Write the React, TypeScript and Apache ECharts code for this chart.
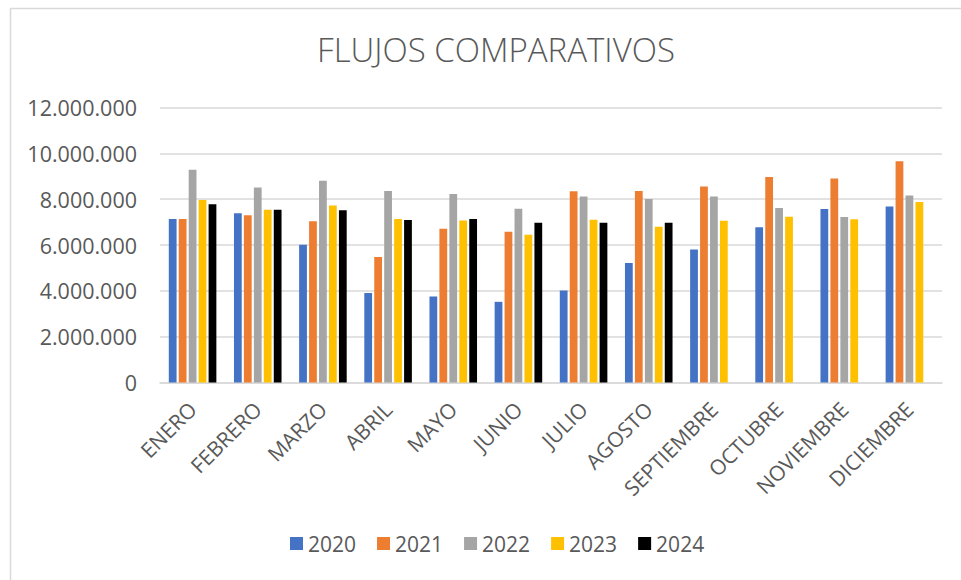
import React, { useEffect, useRef } from "react";
import * as echarts from "echarts";

const months = ["ENERO", "FEBRERO", "MARZO", "ABRIL", "MAYO", "JUNIO", "JULIO", "AGOSTO", "SEPTIEMBRE", "OCTUBRE", "NOVIEMBRE", "DICIEMBRE"];
const years = ["2020", "2021", "2022", "2023", "2024"];
const s2020 = [7140000, 7390000, 6010000, 3910000, 3750000, 3520000, 4010000, 5220000, 5800000, 6780000, 7570000, 7680000];
const s2021 = [7130000, 7300000, 7040000, 5480000, 6710000, 6580000, 8350000, 8360000, 8550000, 8970000, 8900000, 9650000];
const s2022 = [9280000, 8510000, 8800000, 8360000, 8230000, 7580000, 8120000, 8010000, 8120000, 7610000, 7220000, 8160000];
const s2023 = [7960000, 7540000, 7720000, 7130000, 7070000, 6450000, 7100000, 6800000, 7060000, 7230000, 7120000, 7880000];
const s2024 = [7780000, 7540000, 7520000, 7090000, 7130000, 6970000, 6970000, 6970000, null, null, null, null];
const yTicks = { min: 0, max: 12000000, interval: 2000000 };
const colors = ["#4472C4", "#ED7D31", "#A5A5A5", "#FFC000", "#000000"];

const fmt = (v: number) => String(Math.round(v)).replace(/\B(?=(\d{3})+(?!\d))/g, ".");

export default function App() {
  const ref = useRef<HTMLDivElement>(null);
  useEffect(() => {
    if (!ref.current) return;
    const chart = echarts.init(ref.current, null, { renderer: "svg" });
    const allSeries = [s2020, s2021, s2022, s2023, s2024];
    const font = "'Open Sans', sans-serif";
    chart.setOption({
      animation: false,
      backgroundColor: "#ffffff",
      color: colors,
      title: {
        text: "FLUJOS COMPARATIVOS",
        left: 491,
        top: 28,
        textAlign: "center",
        textStyle: { fontFamily: font, fontWeight: 300, fontSize: 33, color: "#595959" },
      },
      graphic: [
        {
          type: "rect",
          shape: { x: 10.5, y: 8.5, width: 2000, height: 2000 },
          style: { fill: "none", stroke: "#d9d9d9", lineWidth: 1.5 },
          silent: true,
        },
      ],
      legend: {
        data: years,
        bottom: 21,
        left: 285,
        icon: "rect",
        itemWidth: 13,
        itemHeight: 13,
        itemGap: 21,
        textStyle: { fontFamily: font, fontSize: 21, color: "#595959" },
      },
      grid: { left: 160, right: 19, top: 107.5, bottom: 197.5, containLabel: false },
      xAxis: {
        type: "category",
        data: months,
        axisLine: { lineStyle: { color: "#d9d9d9", width: 1.5 } },
        axisTick: { show: false },
        axisLabel: {
          interval: 0,
          rotate: 45,
          margin: 23,
          fontFamily: font,
          fontSize: 21,
          color: "#595959",
        },
      },
      yAxis: {
        type: "value",
        min: yTicks.min,
        max: yTicks.max,
        interval: yTicks.interval,
        axisLine: { show: false },
        axisTick: { show: false },
        splitLine: { lineStyle: { color: "#d9d9d9", width: 1.5 } },
        axisLabel: {
          margin: 23,
          fontFamily: font,
          fontSize: 21.5,
          color: "#595959",
          formatter: (v: number) => fmt(v),
        },
      },
      series: years.map((y, i) => ({
        name: y,
        type: "bar",
        data: allSeries[i],
        barGap: "28%",
        barCategoryGap: "27%",
        itemStyle: { color: colors[i] },
      })),
    });
    return () => chart.dispose();
  }, []);
  return <div ref={ref} style={{ position: "fixed", left: 0, top: 0, width: 961, height: 580 }} />;
}
